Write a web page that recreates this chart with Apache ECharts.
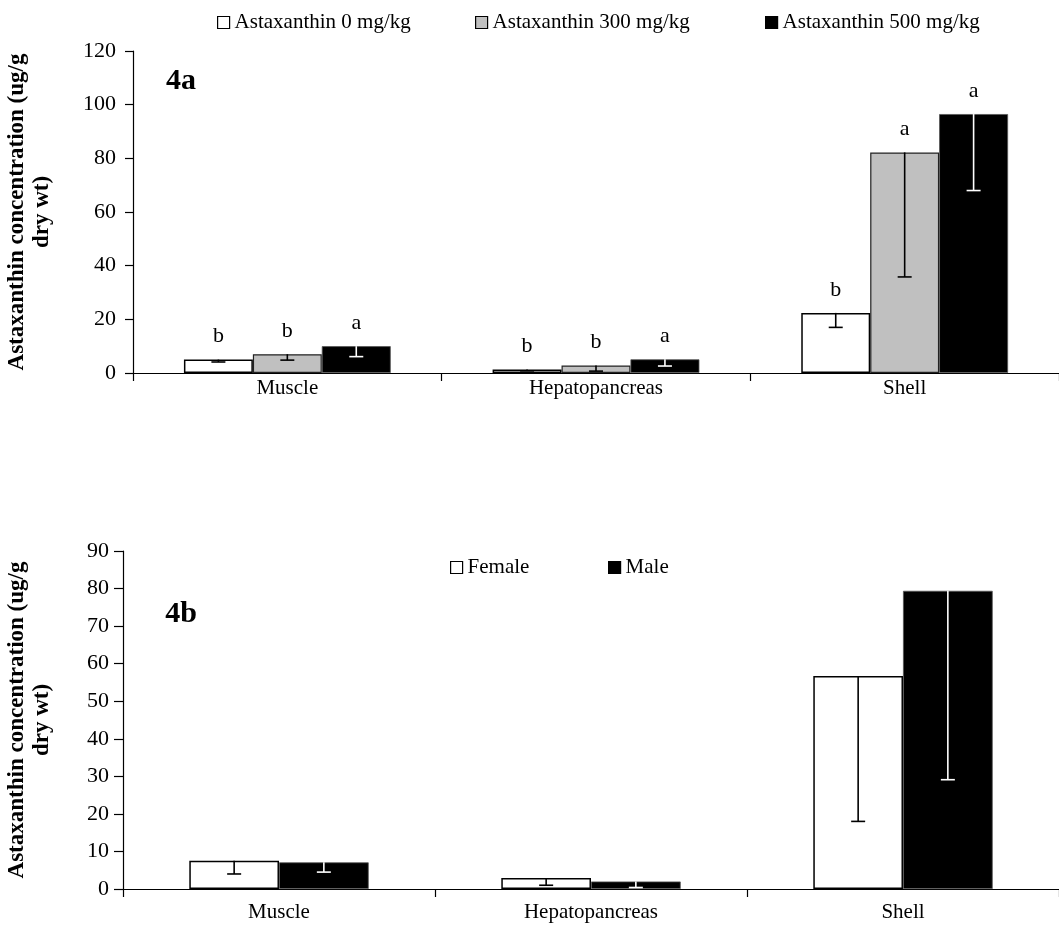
<!DOCTYPE html>
<html>
<head>
<meta charset="utf-8">
<script src="https://cdn.jsdelivr.net/npm/echarts@6/dist/echarts.min.js"></script>
<style>html,body{margin:0;padding:0;background:#fff}#c{width:1059px;height:943px}</style>
</head>
<body>
<div id="c"></div>
<script>
// ---- Data ----
const categories = ['Muscle', 'Hepatopancreas', 'Shell'];

// Figure 4a
const dose0 = [5.0, 1.3, 22.4];
const dose300 = [7.0, 2.8, 82.2];
const dose500 = [10.0, 5.1, 96.5];
const dose0Err = [0.9, 0.5, 5.4];
const dose300Err = [2.2, 2.1, 46.4];
const dose500Err = [3.9, 2.5, 28.5];
const dose0Letters = ['b', 'b', 'b'];
const dose300Letters = ['b', 'b', 'a'];
const dose500Letters = ['a', 'a', 'a'];
const namesA = ['Astaxanthin 0 mg/kg', 'Astaxanthin 300 mg/kg', 'Astaxanthin 500 mg/kg'];

// Figure 4b
const female = [7.5, 2.9, 56.7];
const male = [7.1, 2.0, 79.4];
const femaleErr = [3.5, 1.9, 38.7];
const maleErr = [2.6, 1.6, 50.3];
const namesB = ['Female', 'Male'];

const yTitle = 'Astaxanthin concentration (ug/g\ndry wt)';

// ---- Chart ----
const FONT = '"Liberation Serif", "Times New Roman", serif';
const chart = echarts.init(document.getElementById('c'), null, {renderer: 'canvas'});

const GAP_A = 0.33, GAP_B = 0.425;

function errRenderer(idx, n, gap, color) {
  return function (params, api) {
    const cat = api.value(0), val = api.value(1), low = api.value(2);
    const p1 = api.coord([cat, val]);
    const p2 = api.coord([cat, low]);
    const band = api.size([1, 0])[0];
    const groupW = band * (1 - gap);
    const barW = groupW / n;
    const x = p1[0] - groupW / 2 + barW * (idx + 0.5);
    const st = {stroke: color, lineWidth: 1.6};
    return {
      type: 'group',
      children: [
        {type: 'line', shape: {x1: x, y1: p1[1], x2: x, y2: p2[1]}, style: st},
        {type: 'line', shape: {x1: x - 7, y1: p2[1], x2: x + 7, y2: p2[1]}, style: st}
      ]
    };
  };
}

function errData(vals, errs) {
  return vals.map((v, i) => [i, v, v - errs[i]]);
}

const styles = [
  {color: '#ffffff', borderColor: '#000000', borderWidth: 1.5},
  {color: '#c0c0c0', borderColor: '#222222', borderWidth: 1.2},
  {color: '#000000', borderColor: '#555555', borderWidth: 0.8}
];

function barSeries(name, data, style, letters, xi, gap) {
  const s = {
    name: name, type: 'bar', data: data,
    xAxisIndex: xi, yAxisIndex: xi,
    itemStyle: style,
    barGap: '0%', barCategoryGap: (gap * 100) + '%',
    animation: false
  };
  if (letters) {
    s.label = {
      show: true, position: 'top', distance: 12,
      formatter: p => letters[p.dataIndex],
      color: '#000', fontFamily: FONT, fontSize: 22
    };
  }
  return s;
}

function errSeries(vals, errs, idx, n, gap, color, xi) {
  return {
    type: 'custom', xAxisIndex: xi, yAxisIndex: xi,
    renderItem: errRenderer(idx, n, gap, color),
    data: errData(vals, errs), z: 5, animation: false, silent: true,
    encode: {x: 0, y: [1, 2]}
  };
}

const axisCommon = {
  axisLine: {show: true, lineStyle: {color: '#000', width: 1.2}},
  axisTick: {show: true, lineStyle: {color: '#000', width: 1.2}},
  splitLine: {show: false}
};

const legendText = {fontFamily: FONT, fontSize: 21, color: '#000'};
function legendItem(name, fill, left, top) {
  return {
    top: top, left: left, itemWidth: 12, itemHeight: 12, icon: 'rect', itemGap: 6,
    textStyle: legendText, selectedMode: false,
    data: [{name: name, itemStyle: {color: fill, borderColor: '#000', borderWidth: 1.2}}]
  };
}

const option = {
  backgroundColor: '#ffffff',
  animation: false,
  textStyle: {fontFamily: FONT},
  grid: [
    {left: 133, right: -5, top: 51, bottom: 570, containLabel: false},
    {left: 123, right: -4, top: 551, bottom: 54, containLabel: false}
  ],
  legend: [
    legendItem(namesA[0], '#ffffff', 212, 7),
    legendItem(namesA[1], '#c0c0c0', 470, 7),
    legendItem(namesA[2], '#000000', 760, 7),
    legendItem(namesB[0], '#ffffff', 445, 552),
    legendItem(namesB[1], '#000000', 603, 552)
  ],
  xAxis: [
    Object.assign({}, axisCommon, {
      type: 'category', gridIndex: 0, data: categories,
      axisTick: {show: true, length: 8, lineStyle: {color: '#000', width: 1.2}},
      axisLabel: {color: '#000', fontFamily: FONT, fontSize: 21, margin: 5}
    }),
    Object.assign({}, axisCommon, {
      type: 'category', gridIndex: 1, data: categories,
      axisTick: {show: true, length: 8, lineStyle: {color: '#000', width: 1.2}},
      axisLabel: {color: '#000', fontFamily: FONT, fontSize: 21, margin: 13}
    })
  ],
  yAxis: [
    Object.assign({}, axisCommon, {
      type: 'value', gridIndex: 0, min: 0, max: 120, interval: 20,
      axisTick: {show: true, length: 8, lineStyle: {color: '#000', width: 1.2}},
      axisLabel: {color: '#000', fontFamily: FONT, fontSize: 22, margin: 17}
    }),
    Object.assign({}, axisCommon, {
      type: 'value', gridIndex: 1, min: 0, max: 90, interval: 10,
      axisTick: {show: true, length: 9, lineStyle: {color: '#000', width: 1.2}},
      axisLabel: {color: '#000', fontFamily: FONT, fontSize: 22, margin: 14}
    })
  ],
  series: [
    barSeries(namesA[0], dose0, styles[0], dose0Letters, 0, GAP_A),
    barSeries(namesA[1], dose300, styles[1], dose300Letters, 0, GAP_A),
    barSeries(namesA[2], dose500, styles[2], dose500Letters, 0, GAP_A),
    errSeries(dose0, dose0Err, 0, 3, GAP_A, '#000', 0),
    errSeries(dose300, dose300Err, 1, 3, GAP_A, '#000', 0),
    errSeries(dose500, dose500Err, 2, 3, GAP_A, '#fff', 0),
    barSeries(namesB[0], female, styles[0], null, 1, GAP_B),
    barSeries(namesB[1], male, styles[2], null, 1, GAP_B),
    errSeries(female, femaleErr, 0, 2, GAP_B, '#000', 1),
    errSeries(male, maleErr, 1, 2, GAP_B, '#fff', 1)
  ],
  graphic: [
    {type: 'text', x: 30, y: 212, rotation: Math.PI / 2,
     style: {text: yTitle, fontFamily: FONT, fontWeight: 'bold', fontSize: 23, lineHeight: 25,
             align: 'center', verticalAlign: 'middle', fill: '#000'}},
    {type: 'text', x: 30, y: 720, rotation: Math.PI / 2,
     style: {text: yTitle, fontFamily: FONT, fontWeight: 'bold', fontSize: 23, lineHeight: 25,
             align: 'center', verticalAlign: 'middle', fill: '#000'}},
    {type: 'text', x: 181, y: 81,
     style: {text: '4a', fontFamily: FONT, fontWeight: 'bold', fontSize: 30,
             align: 'center', verticalAlign: 'middle', fill: '#000'}},
    {type: 'text', x: 181, y: 614,
     style: {text: '4b', fontFamily: FONT, fontWeight: 'bold', fontSize: 30,
             align: 'center', verticalAlign: 'middle', fill: '#000'}}
  ]
};
chart.setOption(option);
</script>
</body>
</html>
